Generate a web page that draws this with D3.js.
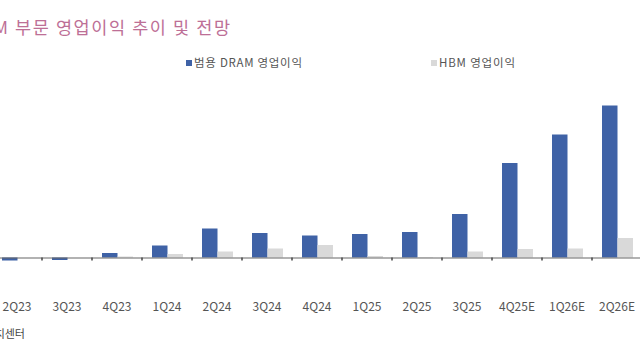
<!DOCTYPE html>
<html><head><meta charset="utf-8">
<script src="https://cdn.jsdelivr.net/npm/d3@7/dist/d3.min.js"></script>
<style>body{margin:0;background:#fff;}svg{display:block;}</style>
</head><body>
<svg id="c" width="640" height="360"></svg>
<script>
const categories = ["2Q23","3Q23","4Q23","1Q24","2Q24","3Q24","4Q24","1Q25","2Q25","3Q25","4Q25E","1Q26E","2Q26E"];
const seriesNames = ["범용 DRAM 영업이익","HBM 영업이익"];
const dramValues = [-0.3,-0.25,0.45,1.2,2.9,2.45,2.2,2.35,2.55,4.35,9.45,12.3,15.2];
const hbmValues = [0,0,0.1,0.35,0.6,0.9,1.25,0.15,0.05,0.6,0.85,0.9,1.95];
const titleText = "DRAM 부문 영업이익 추이 및 전망";
const sourceText = "자료: 리서치센터";
const colors = ["#3f62a6","#d9d9d9"];

const svg = d3.select("#c");
const font = "'Noto Sans CJK KR','Noto Sans',sans-serif";

const x0 = d3.scaleBand().domain(categories).range([-8, 642]).padding(0);
const x1 = d3.scaleBand().domain(seriesNames).range([10, 41]).padding(0);
const y = d3.scaleLinear().domain([-1, 17]).range([267.5, 87.5]);

const rows = categories.map((c,i)=>({cat:c, vals:[dramValues[i], hbmValues[i]]}));

// title: fit letter spacing so the Korean part spans like the reference
const title = svg.append("text").attr("y", 34)
  .attr("font-family", font).attr("font-size", 17.5).attr("fill","#bd6f96").text(titleText);
const node = title.node();
const full = node.getComputedTextLength();
const startIdx = titleText.indexOf("부");
const sub = node.getSubStringLength(startIdx, titleText.length - startIdx);
const n = titleText.length - startIdx;
const targetSub = 215;
const ls = (targetSub - sub) / (n - 1);
title.attr("letter-spacing", ls);
const totalW = full + ls * (titleText.length - 1);
title.attr("x", 230 - totalW);

// legend
const legX = [186, 431];
const legW = [108, 76];
seriesNames.forEach((n,i)=>{
  svg.append("rect").attr("x", legX[i]).attr("y", 60).attr("width",6).attr("height",6).attr("fill", colors[i]);
  svg.append("text").attr("x", legX[i]+8).attr("y", 67).attr("font-family", font).attr("font-size", 11.5)
    .attr("textLength", legW[i]).attr("lengthAdjust","spacing")
    .attr("fill","#555").text(n);
});

// bars
const g = svg.append("g");
g.selectAll("g.cat").data(rows).join("g").attr("class","cat")
  .attr("transform", d=>`translate(${x0(d.cat)},0)`)
  .selectAll("rect").data(d=>d.vals.map((v,i)=>({v, s:seriesNames[i], i})))
  .join("rect")
  .attr("x", d=>x1(d.s)).attr("width", x1.bandwidth())
  .attr("y", d=>y(Math.max(0,d.v))).attr("height", d=>Math.abs(y(d.v)-y(0)))
  .attr("fill", d=>colors[d.i]);

// axis (labels placed low, at bottom of plot area)
const axis = d3.axisBottom(x0).tickSize(0).tickPadding(45);
const ag = svg.append("g").attr("transform", `translate(0,${y(0)})`).call(axis);
ag.select(".domain").attr("stroke","#666").attr("stroke-width",1.2);
ag.selectAll("text").attr("font-family", font).attr("font-size", 12).attr("fill","#555");
ag.selectAll("line.b").data(categories.slice(1)).join("line").attr("class","b")
  .attr("x1", d=>x0(d)).attr("x2", d=>x0(d)).attr("y1",0).attr("y2",3)
  .attr("stroke","#444").attr("stroke-width",1.5);

// source
svg.append("text").attr("x", 25).attr("y", 338).attr("text-anchor","end")
  .attr("font-family", font).attr("font-size", 11).attr("fill","#444").text(sourceText);
</script>
</body></html>
